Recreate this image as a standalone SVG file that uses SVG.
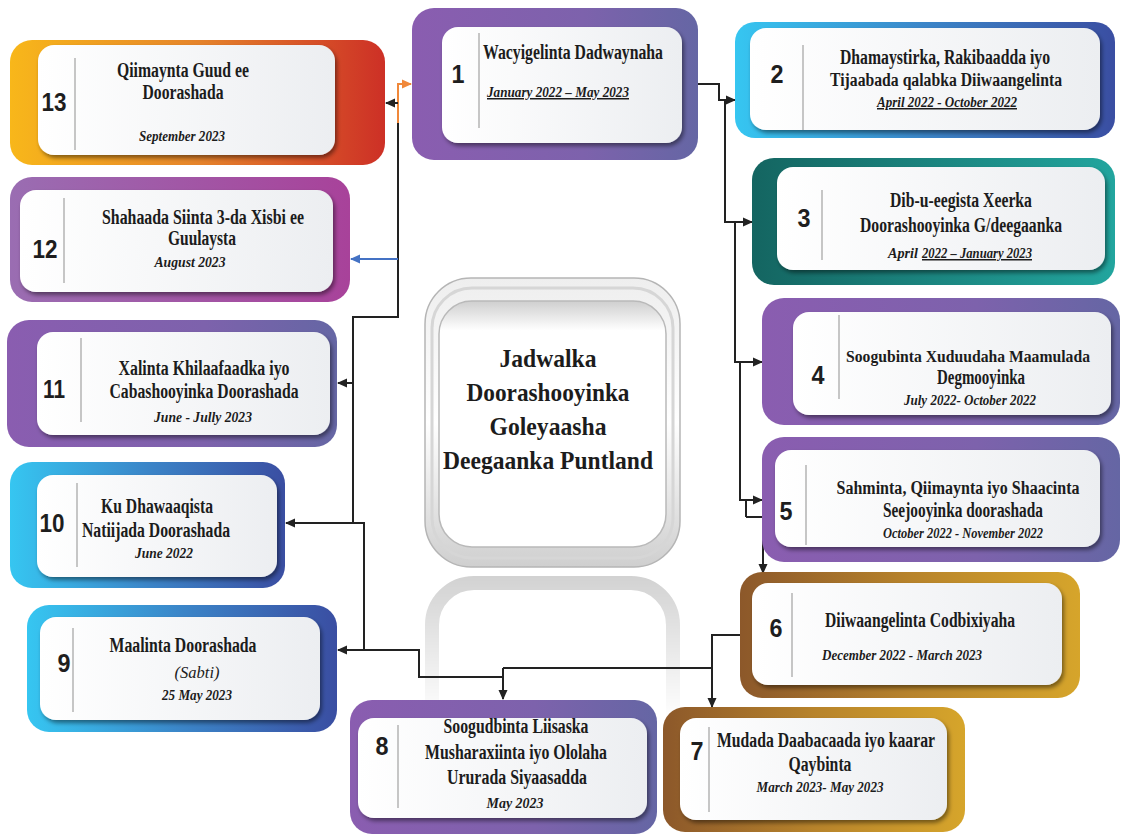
<svg xmlns="http://www.w3.org/2000/svg" width="1121" height="834" viewBox="0 0 1121 834">
<defs>
<style>
.t{font-family:"Liberation Serif","Times New Roman",serif;font-weight:bold;font-size:20px;fill:#1c1c1c;text-anchor:middle}
.s{font-size:18px}
.d{font-family:"Liberation Serif","Times New Roman",serif;font-weight:bold;font-style:italic;font-size:15px;fill:#1c1c1c;text-anchor:middle}
.n{font-family:"Liberation Sans",Arial,sans-serif;font-weight:bold;font-size:26px;fill:#1e1e1e;text-anchor:middle}
.c{font-family:"Liberation Serif","Times New Roman",serif;font-weight:bold;font-size:25px;fill:#1c1c1c;text-anchor:middle}
.sep{stroke:#b8b8b8;stroke-width:1.6}
.in{fill:url(#wg);filter:url(#sh)}
.ln{fill:none;stroke:#222;stroke-width:2}
.ar{fill:none;stroke:#222;stroke-width:2;marker-end:url(#ah)}
</style>
<linearGradient id="wg" x1="0" y1="0" x2="1" y2="0"><stop offset="0" stop-color="#ffffff"/><stop offset="1" stop-color="#eceef1"/></linearGradient>
<linearGradient id="g13" x1="0" y1="0" x2="1" y2="0"><stop offset="0" stop-color="#f8b71a"/><stop offset="0.5" stop-color="#e5842b"/><stop offset="1" stop-color="#cd3026"/></linearGradient>
<linearGradient id="g12" x1="0" y1="0" x2="1" y2="0"><stop offset="0" stop-color="#9a6db2"/><stop offset="1" stop-color="#a8429a"/></linearGradient>
<linearGradient id="gp" x1="0" y1="0" x2="1" y2="0"><stop offset="0" stop-color="#8a5db0"/><stop offset="0.6" stop-color="#7d62ac"/><stop offset="1" stop-color="#6566a4"/></linearGradient>
<linearGradient id="gb" x1="0" y1="0" x2="1" y2="0"><stop offset="0" stop-color="#36c6f1"/><stop offset="0.5" stop-color="#3b85c8"/><stop offset="1" stop-color="#3a4ea2"/></linearGradient>
<linearGradient id="gt" x1="0" y1="0" x2="1" y2="0"><stop offset="0" stop-color="#146561"/><stop offset="1" stop-color="#22a59e"/></linearGradient>
<linearGradient id="gg" x1="0" y1="0" x2="1" y2="0"><stop offset="0" stop-color="#8c582a"/><stop offset="0.5" stop-color="#b7832b"/><stop offset="1" stop-color="#d6a52b"/></linearGradient>
<linearGradient id="cg" x1="0" y1="0" x2="0" y2="1"><stop offset="0" stop-color="#eeeeee"/><stop offset="0.5" stop-color="#ffffff"/><stop offset="1" stop-color="#cfcfcf"/></linearGradient>
<linearGradient id="ci" x1="0" y1="0" x2="0" y2="1"><stop offset="0" stop-color="#cfcfcf"/><stop offset="0.12" stop-color="#ffffff"/><stop offset="1" stop-color="#ffffff"/></linearGradient>
<linearGradient id="rf" x1="0" y1="0" x2="0" y2="1"><stop offset="0" stop-color="#fff" stop-opacity="0.85"/><stop offset="1" stop-color="#fff" stop-opacity="0"/></linearGradient>
<mask id="rm" maskUnits="userSpaceOnUse" x="400" y="560" width="300" height="200"><rect x="400" y="560" width="300" height="160" fill="url(#rf)"/></mask>
<filter id="sh" x="-10%" y="-10%" width="125%" height="130%"><feDropShadow dx="2" dy="3" stdDeviation="2" flood-color="#000" flood-opacity="0.45"/></filter>
<marker id="ah" viewBox="0 0 10 10" refX="9" refY="5" markerWidth="10" markerHeight="10" markerUnits="userSpaceOnUse" orient="auto"><path d="M0,0.5 L10,5 L0,9.5 z" fill="#222"/></marker>
<marker id="ao" viewBox="0 0 10 10" refX="9" refY="5" markerWidth="10" markerHeight="10" markerUnits="userSpaceOnUse" orient="auto"><path d="M0,0.5 L10,5 L0,9.5 z" fill="#f0883a"/></marker>
<marker id="ab" viewBox="0 0 10 10" refX="9" refY="5" markerWidth="10" markerHeight="10" markerUnits="userSpaceOnUse" orient="auto"><path d="M0,0.5 L10,5 L0,9.5 z" fill="#4472c4"/></marker>
</defs>
<rect width="1121" height="834" fill="#ffffff"/>

<g id="reflection" mask="url(#rm)">
<rect x="432" y="583" width="241" height="220" rx="42" fill="none" stroke="#c4c4c4" stroke-width="14"/>
</g>

<g id="connectors">
<path d="M398,123 V84 H411" fill="none" stroke="#f0883a" stroke-width="2" marker-end="url(#ao)"/>
<path class="ln" d="M398,123 V317 H353 V523"/>
<path class="ar" d="M398,103 H386"/>
<path d="M398,259 H351" fill="none" stroke="#4472c4" stroke-width="2" marker-end="url(#ab)"/>
<path class="ar" d="M353,383 H338"/>
<path class="ar" d="M364,523 H286"/>
<path class="ln" d="M353,523 H364 V650"/>
<path class="ar" d="M364,650 H338"/>
<path class="ln" d="M364,650 H419 V677 H503"/>
<path class="ar" d="M503,668 V699"/>
<path class="ln" d="M503,668 H712"/>
<path class="ar" d="M740,635 H712 V707"/>
<path class="ln" d="M698,84 H719 V100 H725 V222 H735 V362 H740 V500 H746 V517"/>
<path class="ar" d="M719,100 H735"/>
<path class="ar" d="M725,222 H752"/>
<path class="ar" d="M735,362 H762"/>
<path class="ar" d="M740,500 H762"/>
<path class="ar" d="M746,517 H763 V573"/>
</g>

<g id="center">
<rect x="425" y="278" width="255" height="289" rx="46" fill="url(#cg)" stroke="#b5b5b5" stroke-width="1.5"/>
<rect x="432" y="288" width="241" height="270" rx="40" fill="none" stroke="#d6d6d6" stroke-width="3"/>
<rect x="439" y="301" width="227" height="246" rx="33" fill="url(#ci)" stroke="#b9b9b9" stroke-width="1.5"/>
<text class="c" x="548" y="367" textLength="97" lengthAdjust="spacingAndGlyphs">Jadwalka</text>
<text class="c" x="548" y="401" textLength="163" lengthAdjust="spacingAndGlyphs">Doorashooyinka</text>
<text class="c" x="548" y="435" textLength="117" lengthAdjust="spacingAndGlyphs">Goleyaasha</text>
<text class="c" x="548" y="469" textLength="210" lengthAdjust="spacingAndGlyphs">Deegaanka Puntland</text>
</g>

<g id="node1">
<rect x="412" y="8" width="286" height="152" rx="22" fill="url(#gp)"/>
<rect class="in" x="442" y="27" width="240" height="116" rx="16"/>
<line class="sep" x1="479" y1="33" x2="479" y2="128"/>
<text class="n" x="458" y="83" textLength="13" lengthAdjust="spacingAndGlyphs">1</text>
<text class="t" x="573" y="59" textLength="180" lengthAdjust="spacingAndGlyphs">Wacyigelinta Dadwaynaha</text>
<text class="d" x="558" y="97" textLength="142" lengthAdjust="spacingAndGlyphs" text-decoration="underline">January 2022 – May 2023</text>
</g>

<g id="node2">
<rect x="735" y="22" width="380" height="116" rx="20" fill="url(#gb)"/>
<rect class="in" x="750" y="28" width="350" height="102" rx="16"/>
<line class="sep" x1="803" y1="45" x2="803" y2="130"/>
<text class="n" x="777" y="83" textLength="13" lengthAdjust="spacingAndGlyphs">2</text>
<text class="t" x="945" y="64" textLength="210" lengthAdjust="spacingAndGlyphs">Dhamaystirka, Rakibaadda iyo</text>
<text class="t s" x="946" y="86" textLength="232" lengthAdjust="spacingAndGlyphs">Tijaabada qalabka Diiwaangelinta</text>
<text class="d" x="947" y="107" textLength="140" lengthAdjust="spacingAndGlyphs" text-decoration="underline">April 2022 - October 2022</text>
</g>

<g id="node3">
<rect x="752" y="158" width="363" height="127" rx="22" fill="url(#gt)"/>
<rect class="in" x="777" y="167" width="328" height="103" rx="16"/>
<line class="sep" x1="822" y1="190" x2="822" y2="260"/>
<text class="n" x="804" y="227" textLength="13" lengthAdjust="spacingAndGlyphs">3</text>
<text class="t" x="961" y="207" textLength="142" lengthAdjust="spacingAndGlyphs">Dib-u-eegista Xeerka</text>
<text class="t" x="961" y="232" textLength="202" lengthAdjust="spacingAndGlyphs">Doorashooyinka G/deegaanka</text>
<text class="d" x="903" y="258" textLength="30" lengthAdjust="spacingAndGlyphs">April</text>
<text class="d" x="977" y="258" textLength="110" lengthAdjust="spacingAndGlyphs" text-decoration="underline">2022 – January 2023</text>
</g>

<g id="node4">
<rect x="762" y="298" width="358" height="127" rx="22" fill="url(#gp)"/>
<rect class="in" x="793" y="312" width="318" height="103" rx="16"/>
<line class="sep" x1="839" y1="315" x2="839" y2="399"/>
<text class="n" x="818" y="384" textLength="13" lengthAdjust="spacingAndGlyphs">4</text>
<text class="t" x="968" y="362" style="font-size:17px" textLength="244" lengthAdjust="spacingAndGlyphs">Soogubinta Xuduudaha Maamulada</text>
<text class="t" x="981" y="384" textLength="88" lengthAdjust="spacingAndGlyphs">Degmooyinka</text>
<text class="d" x="970" y="405" textLength="132" lengthAdjust="spacingAndGlyphs">July 2022- October 2022</text>
</g>

<g id="node5">
<rect x="762" y="437" width="358" height="125" rx="22" fill="url(#gp)"/>
<rect class="in" x="775" y="450" width="325" height="97" rx="16"/>
<line class="sep" x1="806" y1="465" x2="806" y2="545"/>
<text class="n" x="786" y="520" textLength="13" lengthAdjust="spacingAndGlyphs">5</text>
<text class="t s" x="958" y="494" textLength="243" lengthAdjust="spacingAndGlyphs">Sahminta, Qiimaynta iyo Shaacinta</text>
<text class="t" x="963" y="517" textLength="160" lengthAdjust="spacingAndGlyphs">Seejooyinka doorashada</text>
<text class="d" x="963" y="538" textLength="160" lengthAdjust="spacingAndGlyphs">October 2022 - November 2022</text>
</g>

<g id="node6">
<rect x="740" y="572" width="340" height="126" rx="22" fill="url(#gg)"/>
<rect class="in" x="752" y="583" width="310" height="102" rx="16"/>
<line class="sep" x1="792" y1="593" x2="792" y2="677"/>
<text class="n" x="776" y="637" textLength="13" lengthAdjust="spacingAndGlyphs">6</text>
<text class="t" x="920" y="627" textLength="190" lengthAdjust="spacingAndGlyphs">Diiwaangelinta Codbixiyaha</text>
<text class="d" x="902" y="660" textLength="160" lengthAdjust="spacingAndGlyphs">December 2022 - March 2023</text>
</g>

<g id="node7">
<rect x="663" y="707" width="302" height="125" rx="22" fill="url(#gg)"/>
<rect class="in" x="680" y="718" width="267" height="102" rx="16"/>
<line class="sep" x1="709" y1="727" x2="709" y2="812"/>
<text class="n" x="697" y="760" textLength="13" lengthAdjust="spacingAndGlyphs">7</text>
<text class="t" x="826" y="747" textLength="218" lengthAdjust="spacingAndGlyphs">Mudada Daabacaada iyo kaarar</text>
<text class="t" x="820" y="771" textLength="63" lengthAdjust="spacingAndGlyphs">Qaybinta</text>
<text class="d" x="820" y="792" textLength="127" lengthAdjust="spacingAndGlyphs">March 2023- May 2023</text>
</g>

<g id="node8">
<rect x="350" y="700" width="307" height="134" rx="22" fill="url(#gp)"/>
<rect class="in" x="358" y="718" width="289" height="100" rx="16"/>
<line class="sep" x1="398" y1="725" x2="398" y2="808"/>
<text class="n" x="382" y="755" textLength="13" lengthAdjust="spacingAndGlyphs">8</text>
<text class="t" x="516" y="733" textLength="145" lengthAdjust="spacingAndGlyphs">Soogudbinta Liisaska</text>
<text class="t" x="516" y="759" textLength="182" lengthAdjust="spacingAndGlyphs">Musharaxiinta iyo Ololaha</text>
<text class="t" x="517" y="784" textLength="140" lengthAdjust="spacingAndGlyphs">Ururada Siyaasadda</text>
<text class="d" x="515" y="808" textLength="57" lengthAdjust="spacingAndGlyphs">May  2023</text>
</g>

<g id="node9">
<rect x="27" y="605" width="310" height="127" rx="22" fill="url(#gb)"/>
<rect class="in" x="40" y="617" width="280" height="103" rx="16"/>
<line class="sep" x1="73" y1="628" x2="73" y2="712"/>
<text class="n" x="64" y="672" textLength="13" lengthAdjust="spacingAndGlyphs">9</text>
<text class="t" x="183" y="652" textLength="147" lengthAdjust="spacingAndGlyphs">Maalinta Doorashada</text>
<text class="d" x="197" y="678" style="font-weight:normal;font-size:17px" textLength="45" lengthAdjust="spacingAndGlyphs">(Sabti)</text>
<text class="d" x="197" y="700" textLength="70" lengthAdjust="spacingAndGlyphs">25 May 2023</text>
</g>

<g id="node10">
<rect x="10" y="462" width="275" height="126" rx="22" fill="url(#gb)"/>
<rect class="in" x="37" y="475" width="240" height="102" rx="16"/>
<line class="sep" x1="77" y1="483" x2="77" y2="567"/>
<text class="n" x="52" y="532" textLength="25" lengthAdjust="spacingAndGlyphs">10</text>
<text class="t" x="157" y="513" textLength="112" lengthAdjust="spacingAndGlyphs">Ku Dhawaaqista</text>
<text class="t" x="156" y="537" textLength="148" lengthAdjust="spacingAndGlyphs">Natiijada Doorashada</text>
<text class="d" x="164" y="558" textLength="58" lengthAdjust="spacingAndGlyphs">June 2022</text>
</g>

<g id="node11">
<rect x="7" y="320" width="330" height="127" rx="22" fill="url(#gp)"/>
<rect class="in" x="37" y="332" width="293" height="103" rx="16"/>
<line class="sep" x1="81" y1="338" x2="81" y2="422"/>
<text class="n" x="54" y="398" textLength="22" lengthAdjust="spacingAndGlyphs">11</text>
<text class="t" x="204" y="375" textLength="171" lengthAdjust="spacingAndGlyphs">Xalinta Khilaafaadka iyo</text>
<text class="t" x="204" y="398" textLength="189" lengthAdjust="spacingAndGlyphs">Cabashooyinka Doorashada</text>
<text class="d" x="203" y="422" textLength="98" lengthAdjust="spacingAndGlyphs">June - Jully  2023</text>
</g>

<g id="node12">
<rect x="10" y="177" width="340" height="125" rx="22" fill="url(#g12)"/>
<rect class="in" x="20" y="190" width="313" height="102" rx="16"/>
<line class="sep" x1="64" y1="198" x2="64" y2="283"/>
<text class="n" x="45" y="258" textLength="25" lengthAdjust="spacingAndGlyphs">12</text>
<text class="t" x="203" y="224" textLength="202" lengthAdjust="spacingAndGlyphs">Shahaada Siinta 3-da Xisbi ee</text>
<text class="t" x="202" y="245" textLength="68" lengthAdjust="spacingAndGlyphs">Guulaysta</text>
<text class="d" x="190" y="267" textLength="71" lengthAdjust="spacingAndGlyphs">August  2023</text>
</g>

<g id="node13">
<rect x="10" y="40" width="375" height="125" rx="22" fill="url(#g13)"/>
<rect class="in" x="38" y="45" width="297" height="110" rx="16"/>
<line class="sep" x1="75" y1="58" x2="75" y2="150"/>
<text class="n" x="54" y="111" textLength="25" lengthAdjust="spacingAndGlyphs">13</text>
<text class="t" x="183" y="77" textLength="132" lengthAdjust="spacingAndGlyphs">Qiimaynta Guud ee</text>
<text class="t" x="183" y="99" textLength="81" lengthAdjust="spacingAndGlyphs">Doorashada</text>
<text class="d" x="182" y="141" textLength="86" lengthAdjust="spacingAndGlyphs">September 2023</text>
</g>
</svg>
